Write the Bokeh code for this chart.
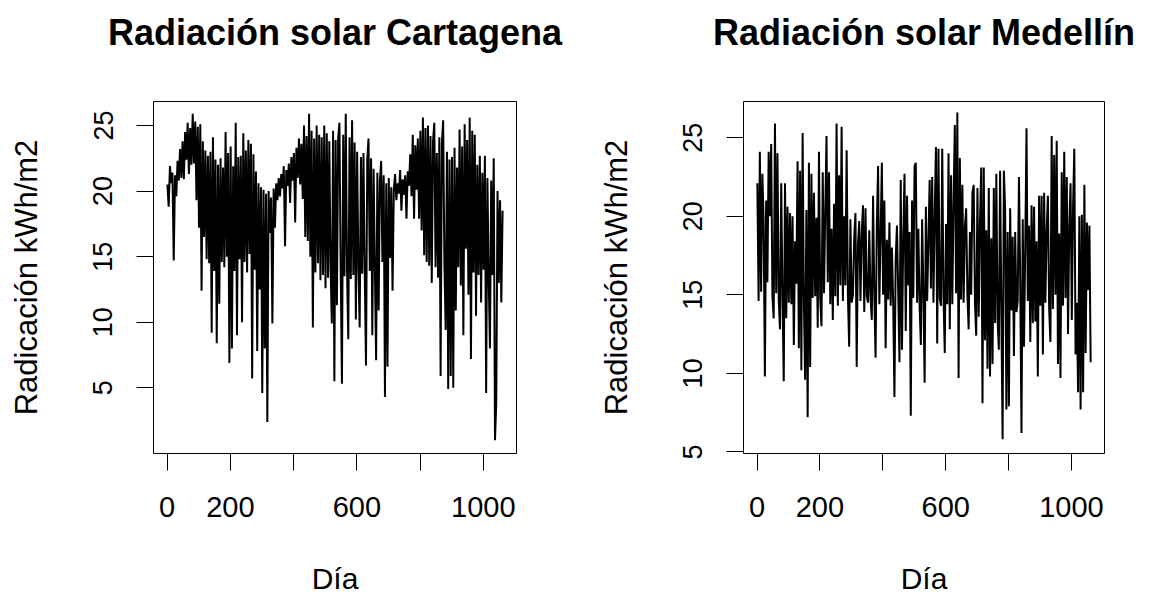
from bokeh.plotting import figure
from bokeh.layouts import row
from bokeh.models import Range1d, FixedTicker, ColumnDataSource
from bokeh.embed import file_html
from bokeh.resources import INLINE

# Day index (every 4th day of the ~1064-day record)
dias = list(range(1, 1062, 4))

# Cartagena daily radiation (kWh/m2)
cartagena = [
    20.5, 18.8, 21.9, 20.6, 21.4, 14.7, 21.2, 19.6, 22.3, 20.8,
    23.2, 21.0, 23.8, 20.9, 24.5, 22.4, 25.2, 21.3, 24.8, 22.0,
    25.9, 22.1, 25.3, 19.3, 24.9, 17.2, 25.1, 12.4, 23.8, 16.5,
    23.1, 14.8, 22.7, 14.5, 23.0, 9.2, 24.1, 13.9, 22.4, 8.4,
    22.0, 11.4, 22.5, 14.6, 21.8, 14.2, 24.5, 15.0, 22.9, 6.9,
    23.4, 8.0, 21.9, 13.9, 25.2, 9.0, 22.6, 14.8, 22.7, 10.0,
    24.4, 14.6, 23.1, 13.8, 23.9, 15.2, 23.6, 5.7, 22.8, 14.0,
    21.5, 7.8, 20.6, 12.5, 20.3, 4.6, 20.1, 8.0, 19.8, 2.4,
    20.0, 16.8, 19.5, 9.9, 20.2, 17.2, 20.6, 19.3, 21.0, 19.6,
    21.3, 20.2, 21.9, 15.8, 21.6, 20.4, 22.1, 19.1, 22.6, 20.8,
    22.9, 17.6, 23.3, 21.0, 24.0, 20.5, 23.6, 19.4, 25.0, 16.5,
    24.2, 16.2, 25.9, 15.0, 24.6, 9.6, 24.0, 13.8, 25.0, 14.5,
    24.3, 13.2, 24.1, 13.6, 25.0, 12.6, 24.4, 13.4, 23.8, 14.1,
    9.9, 24.6, 5.5, 23.9, 11.3, 24.0, 25.2, 13.9, 5.3, 24.3,
    13.5, 25.9, 14.0, 8.7, 24.1, 13.3, 25.4, 13.6, 23.7, 10.2,
    23.0, 14.2, 9.6, 22.6, 13.7, 22.9, 13.8, 6.7, 22.4, 24.0,
    13.9, 22.5, 9.0, 21.7, 14.4, 7.1, 21.4, 10.9, 20.8, 22.3,
    14.6, 21.2, 4.3, 20.6, 6.6, 21.0, 14.9, 20.3, 12.4, 20.1,
    21.3, 19.3, 20.6, 19.8, 21.6, 18.5, 20.9, 19.7, 21.2, 17.9,
    21.5, 20.4, 22.8, 19.6, 24.3, 17.9, 23.5, 20.1, 24.0, 17.9,
    24.6, 17.0, 25.6, 15.1, 24.8, 14.6, 25.0, 14.3, 24.2, 13.0,
    23.8, 25.2, 14.2, 22.9, 13.4, 24.1, 5.9, 23.6, 25.4, 14.5,
    9.4, 23.0, 4.9, 22.4, 5.9, 22.6, 5.0, 23.3, 10.9, 21.8,
    14.2, 24.7, 12.8, 23.4, 9.0, 25.1, 15.6, 23.9, 12.1, 25.6,
    7.2, 24.6, 13.8, 24.3, 10.5, 22.0, 13.6, 22.7, 11.5, 21.4,
    14.0, 22.7, 4.6, 21.0, 13.5, 8.0, 20.8, 13.6, 22.5, 1.0,
    3.9, 20.0, 13.0, 19.3, 11.5, 18.5,
]

# Medellín daily radiation (kWh/m2)
medellin = [
    22.1, 14.6, 24.1, 15.2, 22.7, 19.7, 9.8, 21.0, 15.8, 24.1,
    20.0, 24.6, 14.9, 13.5, 25.9, 15.1, 24.0, 14.7, 12.8, 22.1,
    14.8, 9.5, 22.1, 13.5, 20.6, 14.5, 20.2, 14.4, 20.0, 11.8,
    18.4, 15.7, 23.5, 11.6, 22.9, 10.2, 25.3, 14.6, 9.6, 20.4,
    7.2, 23.4, 10.4, 22.7, 14.8, 21.5, 14.9, 19.9, 12.9, 24.1,
    14.7, 13.0, 22.8, 15.1, 20.3, 25.1, 15.8, 22.8, 14.4, 19.2,
    13.4, 20.8, 14.9, 25.9, 14.3, 22.6, 15.6, 25.7, 14.6, 20.0,
    15.6, 24.2, 15.0, 11.7, 19.8, 14.5, 15.0, 18.6, 20.2, 10.4,
    18.2, 19.7, 14.6, 18.9, 20.7, 13.9, 20.5, 14.9, 14.5, 19.1,
    14.8, 13.4, 21.3, 15.0, 11.0, 19.4, 23.2, 14.4, 18.8, 23.4,
    15.0, 21.0, 11.6, 18.5, 14.7, 19.6, 14.3, 18.0, 14.5, 8.5,
    17.3, 19.4, 15.2, 10.7, 22.3, 11.5, 18.6, 22.7, 12.7, 21.3,
    15.6, 19.0, 7.3, 21.0, 14.8, 23.2, 23.4, 14.5, 19.2, 14.3,
    11.8, 19.8, 15.3, 9.4, 20.6, 14.6, 18.4, 22.3, 15.4, 22.5,
    14.5, 20.1, 24.4, 11.9, 24.3, 14.8, 14.3, 24.3, 14.9, 11.3,
    19.5, 14.4, 24.0, 12.8, 22.6, 14.4, 20.9, 25.8, 15.1, 26.6,
    9.7, 23.7, 14.7, 22.0, 14.5, 19.3, 20.5, 15.0, 12.8, 19.0,
    15.0, 21.5, 22.0, 14.6, 12.4, 21.8, 13.6, 19.6, 23.1, 8.1,
    23.1, 12.1, 19.1, 10.3, 21.8, 9.8, 18.6, 10.6, 21.8, 13.2,
    22.7, 13.4, 11.5, 22.9, 13.8, 5.8, 22.9, 20.4, 7.7, 19.0,
    7.9, 20.5, 14.0, 18.7, 11.1, 19.0, 13.9, 14.6, 22.5, 15.8,
    6.2, 19.8, 11.7, 18.1, 25.6, 14.6, 19.4, 12.0, 20.7, 13.2,
    20.6, 13.3, 18.4, 9.8, 21.3, 14.3, 21.3, 11.2, 21.5, 14.5,
    19.0, 21.3, 14.1, 12.0, 25.1, 14.1, 23.9, 15.0, 24.8, 10.6,
    18.9, 9.7, 22.8, 14.3, 24.1, 14.8, 22.5, 12.5, 19.4, 22.1,
    13.4, 20.6, 24.3, 11.2, 14.5, 8.8, 20.0, 7.7, 20.1, 8.8,
    22.0, 11.3, 19.6, 15.3, 19.4, 10.7,
]

x_ticks = [0, 200, 400, 600, 800, 1000]
x_tick_labels = {0: "0", 200: "200", 400: "", 600: "600", 800: "", 1000: "1000"}
y_ticks = [5, 10, 15, 20, 25]

FONT = "Liberation Sans"


def panel(title, values, y_lo, y_hi, width, b_left, b_right):
    p = figure(width=width, height=600, output_backend="svg", toolbar_location=None,
               x_range=Range1d(-43, 1105), y_range=Range1d(y_lo, y_hi),
               min_border_left=b_left, min_border_right=b_right,
               min_border_top=101, min_border_bottom=147)
    src = ColumnDataSource(dict(dia=dias, rad=values))
    p.line("dia", "rad", source=src, line_color="black", line_width=2.0)

    # trailing blank line keeps the title high above the box, as in R
    p.title.text = title + "\n"
    p.title.align = "center"
    p.title.text_font = FONT
    p.title.text_font_size = "36px"
    p.title.text_font_style = "bold"
    p.title.text_color = "black"
    p.title.standoff = 16

    p.xgrid.visible = False
    p.ygrid.visible = False
    p.outline_line_color = "black"
    p.outline_line_width = 1
    p.outline_line_alpha = 1
    p.background_fill_color = "white"
    p.border_fill_color = "white"

    for ax in (p.xaxis[0], p.yaxis[0]):
        ax.axis_line_color = None
        ax.major_tick_out = 17
        ax.major_tick_in = 0
        ax.minor_tick_line_color = None
        ax.major_tick_line_color = "black"
        ax.major_tick_line_width = 1
        ax.major_label_text_font = FONT
        ax.major_label_text_color = "black"
        ax.axis_label_text_font = FONT
        ax.axis_label_text_font_style = "normal"
        ax.axis_label_text_color = "black"

    p.xaxis[0].ticker = FixedTicker(ticks=x_ticks)
    p.xaxis[0].major_label_overrides = x_tick_labels
    p.xaxis[0].axis_label = "Día"
    p.xaxis[0].major_label_text_font_size = "29px"
    p.xaxis[0].axis_label_text_font_size = "30px"
    p.xaxis[0].major_label_standoff = 26
    p.xaxis[0].axis_label_standoff = 42

    p.yaxis[0].ticker = FixedTicker(ticks=y_ticks)
    p.yaxis[0].major_label_orientation = "vertical"
    p.yaxis[0].axis_label = "Radicación kWh/m2"
    p.yaxis[0].major_label_text_font_size = "27px"
    p.yaxis[0].axis_label_text_font_size = "31px"
    p.yaxis[0].major_label_standoff = 24
    p.yaxis[0].axis_label_standoff = 47
    return p


p1 = panel("Radiación solar Cartagena", cartagena, -0.01, 26.83, 575, 153, 59)
p2 = panel("Radiación solar Medellín", medellin, 4.9, 27.3, 576, 168, 47)

layout = row(p1, p2)
open("out.html", "w").write(file_html(layout, INLINE))
